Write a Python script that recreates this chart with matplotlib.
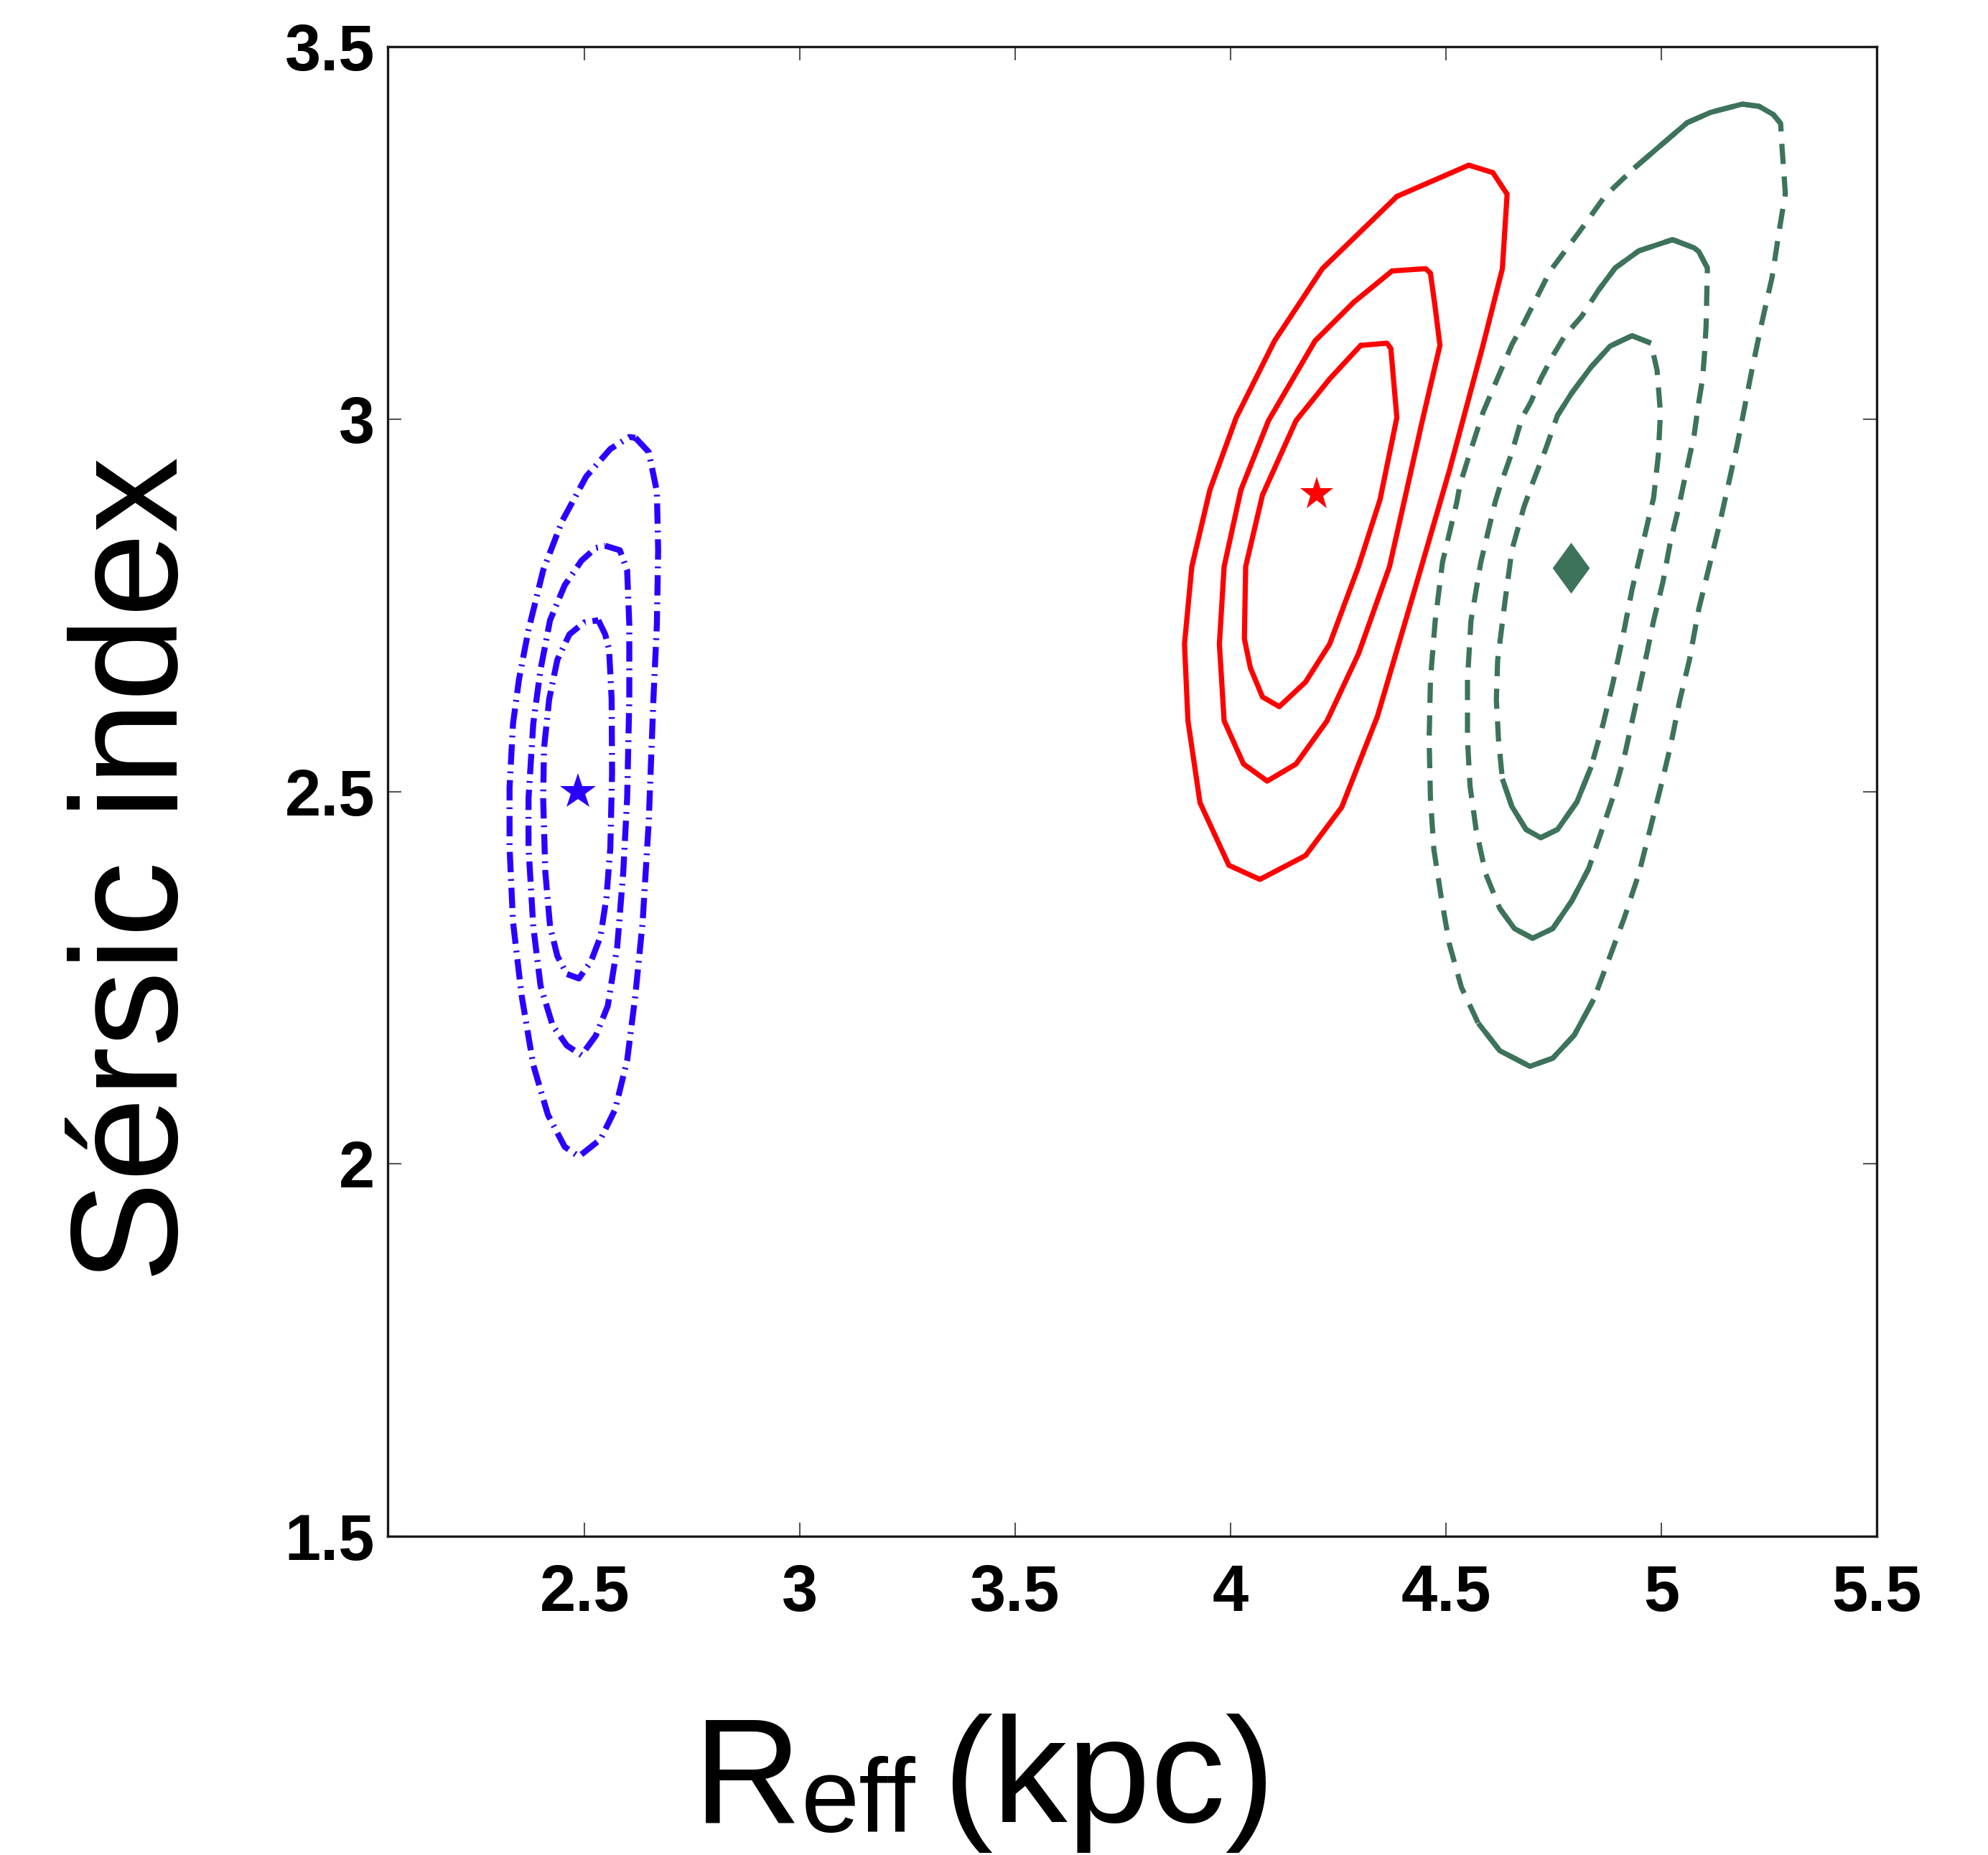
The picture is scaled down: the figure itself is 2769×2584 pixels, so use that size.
import matplotlib
matplotlib.use('Agg')
import matplotlib.pyplot as plt
import numpy as np

plt.rcParams['font.family'] = ['Liberation Sans', 'DejaVu Sans']

# ---------------- data (R_eff in kpc, Sersic index) ----------------
# blue sample: confidence contours
blue_outer_x = [2.618, 2.649, 2.668, 2.671, 2.668, 2.660, 2.649, 2.635, 2.618, 2.599, 2.571, 2.537,
                2.487, 2.454, 2.415, 2.381, 2.354, 2.334, 2.326, 2.326, 2.334, 2.348, 2.370, 2.404,
                2.448, 2.504, 2.560, 2.604]
blue_outer_y = [2.975, 2.956, 2.903, 2.824, 2.724, 2.624, 2.458, 2.325, 2.226, 2.139, 2.073, 2.033,
                2.010, 2.023, 2.066, 2.133, 2.226, 2.325, 2.425, 2.505, 2.591, 2.651, 2.717, 2.797,
                2.863, 2.923, 2.960, 2.976]
blue_mid_x = [2.548, 2.582, 2.599, 2.604, 2.604, 2.599, 2.590, 2.576, 2.554, 2.526, 2.493, 2.459,
              2.426, 2.398, 2.381, 2.370, 2.370, 2.381, 2.398, 2.420, 2.454, 2.493, 2.526]
blue_mid_y = [2.830, 2.824, 2.797, 2.724, 2.624, 2.491, 2.392, 2.292, 2.212, 2.172, 2.146, 2.159,
              2.186, 2.239, 2.319, 2.425, 2.491, 2.591, 2.664, 2.730, 2.777, 2.810, 2.827]
blue_inner_x = [2.532, 2.548, 2.557, 2.563, 2.564, 2.560, 2.551, 2.537, 2.515, 2.487, 2.459, 2.437,
                2.420, 2.409, 2.404, 2.406, 2.418, 2.437, 2.465, 2.499]
blue_inner_y = [2.730, 2.711, 2.691, 2.624, 2.525, 2.425, 2.358, 2.305, 2.272, 2.249, 2.255, 2.279,
                2.319, 2.392, 2.491, 2.558, 2.624, 2.677, 2.711, 2.727]

# red sample
red_outer_x = [4.386, 4.553, 4.609, 4.642, 4.631, 4.586, 4.508, 4.430, 4.341, 4.258, 4.174, 4.068,
               3.996, 3.929, 3.901, 3.893, 3.910, 3.952, 4.013, 4.102, 4.213]
red_outer_y = [3.299, 3.341, 3.331, 3.302, 3.202, 3.099, 2.931, 2.776, 2.601, 2.479, 2.414, 2.382,
               2.401, 2.485, 2.595, 2.698, 2.802, 2.905, 3.002, 3.105, 3.202]
red_mid_x = [4.375, 4.453, 4.464, 4.475, 4.486, 4.444, 4.369, 4.297, 4.224, 4.152, 4.085, 4.030,
             3.985, 3.974, 3.985, 4.024, 4.088, 4.196, 4.286]
red_mid_y = [3.199, 3.202, 3.196, 3.150, 3.099, 2.995, 2.802, 2.685, 2.595, 2.537, 2.514, 2.537,
             2.595, 2.698, 2.802, 2.905, 2.998, 3.105, 3.157]
red_inner_x = [4.302, 4.363, 4.372, 4.386, 4.347, 4.297, 4.230, 4.174, 4.113, 4.074, 4.046, 4.032,
               4.035, 4.074, 4.152, 4.230]
red_inner_y = [3.099, 3.102, 3.095, 3.002, 2.892, 2.802, 2.698, 2.647, 2.614, 2.627, 2.666, 2.705,
               2.802, 2.898, 2.998, 3.054]

# green sample
green_outer_x = [5.188, 5.227, 5.260, 5.277, 5.280, 5.288, 5.274, 5.257, 5.232, 5.210, 5.188, 5.176,
                 5.134, 5.087, 5.065, 5.043, 5.021, 4.999, 4.976, 4.948, 4.915, 4.881, 4.843, 4.798,
                 4.748, 4.695, 4.625, 4.575, 4.536, 4.508, 4.489, 4.472, 4.464, 4.461, 4.464, 4.475,
                 4.492, 4.525, 4.533, 4.558, 4.586, 4.614, 4.653, 4.681, 4.742, 4.809, 4.870, 4.937,
                 5.060, 5.115]
green_outer_y = [3.423, 3.420, 3.409, 3.397, 3.367, 3.303, 3.254, 3.190, 3.126, 3.065, 3.000, 2.965,
                 2.856, 2.745, 2.676, 2.623, 2.560, 2.507, 2.454, 2.390, 2.332, 2.279, 2.221, 2.173,
                 2.142, 2.131, 2.152, 2.189, 2.237, 2.295, 2.358, 2.422, 2.491, 2.570, 2.650, 2.729,
                 2.808, 2.888, 2.913, 2.959, 3.009, 3.047, 3.100, 3.129, 3.199, 3.251, 3.300, 3.337,
                 3.398, 3.412]
green_mid_x = [5.026, 5.076, 5.087, 5.107, 5.104, 5.101, 5.096, 5.087, 5.076, 5.037, 5.021, 5.004,
               4.982, 4.959, 4.937, 4.915, 4.887, 4.859, 4.831, 4.792, 4.748, 4.701, 4.659, 4.625,
               4.592, 4.570, 4.556, 4.550, 4.550, 4.558, 4.581, 4.614, 4.625, 4.653, 4.676, 4.698,
               4.720, 4.748, 4.776, 4.815, 4.854, 4.893, 4.948]
green_mid_y = [3.241, 3.230, 3.225, 3.203, 3.126, 3.094, 3.055, 3.023, 2.978, 2.873, 2.835, 2.782,
               2.729, 2.665, 2.607, 2.549, 2.491, 2.443, 2.396, 2.353, 2.316, 2.303, 2.316, 2.343,
               2.390, 2.449, 2.507, 2.570, 2.650, 2.729, 2.808, 2.888, 2.909, 2.955, 3.001, 3.024,
               3.054, 3.085, 3.112, 3.138, 3.173, 3.203, 3.226]
green_inner_x = [4.932, 4.976, 4.990, 4.998, 4.993, 4.982, 4.968, 4.952, 4.932, 4.909, 4.887, 4.865,
                 4.837, 4.804, 4.759, 4.720, 4.686, 4.653, 4.631, 4.622, 4.617, 4.620, 4.637, 4.653,
                 4.681, 4.703, 4.731, 4.759, 4.792, 4.837, 4.881]
green_inner_y = [3.112, 3.102, 3.066, 3.009, 2.951, 2.894, 2.860, 2.820, 2.771, 2.703, 2.644, 2.591,
                 2.533, 2.486, 2.449, 2.438, 2.449, 2.480, 2.517, 2.570, 2.623, 2.676, 2.755, 2.824,
                 2.882, 2.917, 2.959, 3.005, 3.035, 3.070, 3.098]

# best-fit points
best_blue = (2.485, 2.50)
best_red = (4.20, 2.90)
best_green = (4.79, 2.80)

x_ticks = [2.5, 3, 3.5, 4, 4.5, 5, 5.5]
x_tick_labels = ['2.5', '3', '3.5', '4', '4.5', '5', '5.5']
y_ticks = [1.5, 2, 2.5, 3, 3.5]
y_tick_labels = ['1.5', '2', '2.5', '3', '3.5']

# ---------------- style ----------------
BLUE = '#2a00ff'
RED = '#ff0000'
GREEN = '#3d735a'
LW = 5.2


def closed(x, y):
    return np.r_[x, x[0]], np.r_[y, y[0]]


def span(x, y, i0, i1):
    n = len(x)
    idx = [(i0 + k) % n for k in range((i1 - i0) % n + 1)]
    return np.asarray(x)[idx], np.asarray(y)[idx]


fig = plt.figure(figsize=(27.69, 25.84), dpi=100)
ax = fig.add_axes([0.1950, 0.1718, 0.7490, 0.8030])

# blue, dash-dot
for xs, ys in [(blue_outer_x, blue_outer_y), (blue_mid_x, blue_mid_y), (blue_inner_x, blue_inner_y)]:
    cx, cy = closed(xs, ys)
    ax.plot(cx, cy, color=BLUE, lw=6.0, dashes=(3.4, 1.15, 0.3, 1.15),
            dash_capstyle='butt', dash_joinstyle='round')

# red, solid
for xs, ys in [(red_outer_x, red_outer_y), (red_mid_x, red_mid_y), (red_inner_x, red_inner_y)]:
    cx, cy = closed(xs, ys)
    ax.plot(cx, cy, color=RED, lw=LW, solid_joinstyle='round', solid_capstyle='round')

# green, dashed with solid stretches (index ranges along each contour)
green_sets = [
    (green_outer_x, green_outer_y, [(22, 27), (47, 3)]),
    (green_mid_x, green_mid_y, [(18, 23), (40, 3)]),
    (green_inner_x, green_inner_y, [(12, 18), (27, 1)]),
]
for xs, ys, solids in green_sets:
    cx, cy = closed(xs, ys)
    ax.plot(cx, cy, color=GREEN, lw=LW, dashes=(3.9, 2.4), dash_capstyle='butt',
            dash_joinstyle='round')
    for i0, i1 in solids:
        sx, sy = span(xs, ys, i0, i1)
        ax.plot(sx, sy, color=GREEN, lw=LW, solid_capstyle='butt', solid_joinstyle='round')

diamond = [(0, 1), (0.73, 0), (0, -1), (-0.73, 0), (0, 1)]
ax.plot([best_blue[0]], [best_blue[1]], ls='none', marker='*', ms=38, color=BLUE, mew=0)
ax.plot([best_red[0]], [best_red[1]], ls='none', marker='*', ms=35, color=RED, mew=0)
ax.plot([best_green[0]], [best_green[1]], ls='none', marker=diamond, ms=51, color=GREEN, mew=0)

ax.set_xlim(2.043, 5.5)
ax.set_ylim(1.5, 3.5)
ax.set_xticks(x_ticks)
ax.set_xticklabels(x_tick_labels)
ax.set_yticks(y_ticks)
ax.set_yticklabels(y_tick_labels)
ax.tick_params(direction='in', length=13.7, width=1.5, color='#555555',
               top=True, right=True, labelsize=65)
ax.tick_params(axis='x', pad=27)
ax.tick_params(axis='y', pad=13)
for lbl in ax.get_xticklabels() + ax.get_yticklabels():
    lbl.set_fontweight('bold')
for sp in ax.spines.values():
    sp.set_linewidth(2.4)
    sp.set_color('#1a1a1a')

# x label: R, lowered subscript "eff", then "(kpc)"
fig.text(0.3489, 0.0178, 'R', ha='left', va='baseline', fontsize=150)
fig.text(0.4030, 0.0123, 'eff', ha='left', va='baseline', fontsize=105)
fig.text(0.4742, 0.0178, '(kpc)', ha='left', va='baseline', fontsize=150)

ax.text(-0.1413, 0.448, 'Sérsic index', transform=ax.transAxes, rotation=90,
        rotation_mode='anchor', ha='center', va='baseline', fontsize=152)

fig.savefig('out.png', dpi=100)
